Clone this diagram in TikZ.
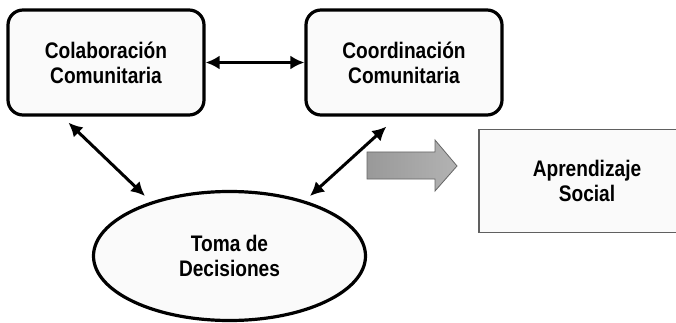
\documentclass[tikz,border=0pt]{standalone}
\usepackage{fontspec}
\setmainfont{Liberation Sans}[FakeStretch=0.85]
\usetikzlibrary{arrows.meta,calc,shapes.geometric}
\begin{document}
\begin{tikzpicture}[x=1pt,y=-1pt,
  lbl/.style={font=\fontsize{22.5}{25}\selectfont\bfseries, align=center, text=black},
  rbox/.style={lbl, draw=black, line width=3.2pt, rounded corners=15pt, fill=gray!4,
    minimum width=196pt, minimum height=105pt, inner sep=0pt},
  dbl/.style={line width=3pt, {Latex[length=14pt,width=14pt]}-{Latex[length=14pt,width=14pt]}},
  ellbox/.style={lbl, draw=black, line width=3.2pt, ellipse, fill=gray!4,
    minimum width=272pt, minimum height=129pt, inner sep=0pt},
  sqbox/.style={lbl, draw=gray!75!black, line width=1.2pt, fill=gray!4,
    minimum width=216pt, minimum height=103pt, inner sep=0pt}
]
\clip (0,0) rectangle (676,323);
\fill[white] (0,0) rectangle (676,323);
\node[rbox] (b1) at (106,62.5) {Colaboración\\Comunitaria};
\node[rbox] (b2) at (404,62.5) {Coordinación\\Comunitaria};
\node[sqbox] (b3) at (587,181) {Aprendizaje\\Social};
\node[ellbox] (ell) at (229.5,256) {Toma de\\Decisiones};
\draw[dbl] (b1.east) -- (b2.west);
\draw[dbl] ($(b1.south west)+(62,6)$) -- ($(ell.center)+(-84.5,-60)$);
\draw[dbl] ($(b2.south west)+(82,10)$) -- ($(ell.center)+(80.5,-60)$);
\shade[left color=gray!80, middle color=gray!6, right color=gray!60, draw=gray!80!black, line width=0.8pt]
  (367,152) -- (435,152) -- (435,140) -- (457,166) -- (435,191) -- (435,179) -- (367,179) -- cycle;
\end{tikzpicture}
\end{document}
